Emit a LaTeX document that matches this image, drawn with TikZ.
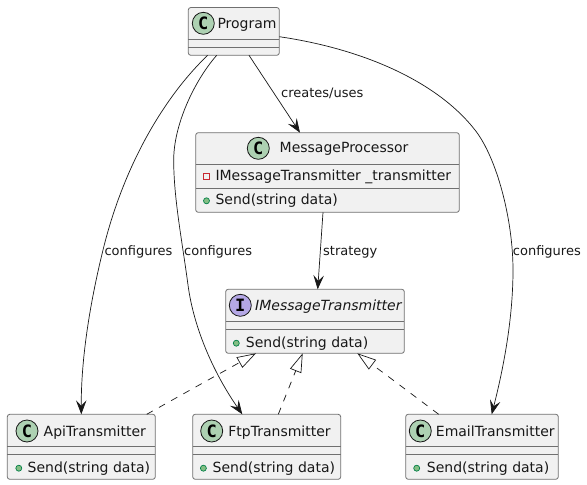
\documentclass[tikz,border=0pt]{standalone}
\usepackage{fontspec}
\setmainfont{DejaVu Sans}
\setmonofont{DejaVu Sans Mono}
\usetikzlibrary{arrows.meta}
\definecolor{boxfill}{HTML}{F1F1F1}
\definecolor{edgecol}{HTML}{181818}
\definecolor{boxline}{HTML}{707070}
\definecolor{classgreen}{HTML}{ADD1B2}
\definecolor{ifacepurple}{HTML}{B4A7E5}
\definecolor{pubgreen}{HTML}{84BE84}
\definecolor{publine}{HTML}{038048}
\definecolor{privred}{HTML}{C82930}
\tikzset{
  classbox/.style={draw=boxline,fill=boxfill,line width=0.8pt,rounded corners=2.5pt,anchor=north west,outer sep=0pt,inner sep=0pt},
  divider/.style={draw=boxline,line width=0.8pt},
  badge/.style={circle,draw=edgecol,line width=0.8pt,minimum size=22pt,inner sep=0pt,font=\fontsize{17}{17}\ttfamily\bfseries},
  title/.style={anchor=base west,inner sep=0pt,text=edgecol,font=\fontsize{14}{14}\selectfont},
  member/.style={title},
  edgelabel/.style={anchor=base west,inner sep=0pt,text=edgecol,font=\fontsize{13}{13}\selectfont},
  pubdot/.style={circle,draw=publine,fill=pubgreen,line width=0.7pt,minimum size=6pt,inner sep=0pt},
  privbox/.style={rectangle,draw=privred,line width=0.9pt,minimum size=6pt,inner sep=0pt},
  uses/.style={draw=edgecol,line width=0.7pt,-{Stealth[length=14pt,width=10.5pt,inset=5.5pt]}},
  realizes/.style={draw=edgecol,line width=0.7pt,dash pattern=on 7pt off 7pt,-{Triangle[open,length=19pt,width=12pt]}},
}
\begin{document}
\begin{tikzpicture}[x=1pt,y=-1pt]
  \useasboundingbox (0,0) rectangle (587,485);
  % classes
  \node [classbox,minimum width=91pt,minimum height=47.8pt] (prog) at (188.3,7.5) {};
  \node [classbox,minimum width=263.6pt,minimum height=79.6pt] (proc) at (195.7,132.7) {};
  \node [classbox,minimum width=178.6pt,minimum height=64pt] (iface) at (225.7,289.3) {};
  \node [classbox,minimum width=148pt,minimum height=65pt] (api) at (7.3,414.3) {};
  \node [classbox,minimum width=148pt,minimum height=65pt] (ftp) at (192.7,414.3) {};
  \node [classbox,minimum width=152.6pt,minimum height=65pt] (email) at (405.7,414.3) {};
  % compartments
  \draw [divider] ([yshift=-31.8pt]prog.north west) -- ([yshift=-31.8pt]prog.north east);
  \draw [divider] ([yshift=-39.8pt]prog.north west) -- ([yshift=-39.8pt]prog.north east);
  \draw [divider] ([yshift=-31.6pt]proc.north west) -- ([yshift=-31.6pt]proc.north east);
  \draw [divider] ([yshift=-55.6pt]proc.north west) -- ([yshift=-55.6pt]proc.north east);
  \draw [divider] ([yshift=-32pt]iface.north west) -- ([yshift=-32pt]iface.north east);
  \draw [divider] ([yshift=-40pt]iface.north west) -- ([yshift=-40pt]iface.north east);
  \draw [divider] ([yshift=-32pt]api.north west) -- ([yshift=-32pt]api.north east);
  \draw [divider] ([yshift=-40pt]api.north west) -- ([yshift=-40pt]api.north east);
  \draw [divider] ([yshift=-32pt]ftp.north west) -- ([yshift=-32pt]ftp.north east);
  \draw [divider] ([yshift=-40pt]ftp.north west) -- ([yshift=-40pt]ftp.north east);
  \draw [divider] ([yshift=-32pt]email.north west) -- ([yshift=-32pt]email.north east);
  \draw [divider] ([yshift=-40pt]email.north west) -- ([yshift=-40pt]email.north east);
  % badges
  \node [badge,fill=classgreen] (progC) at (203.3,23.3) {C};
  \node [badge,fill=classgreen] (procC) at (258.3,148.3) {C};
  \node [badge,fill=ifacepurple] (ifaceI) at (240.3,305.3) {I};
  \node [badge,fill=classgreen] (apiC) at (27,431) {C};
  \node [badge,fill=classgreen] (ftpC) at (211.7,431) {C};
  \node [badge,fill=classgreen] (emailC) at (420.3,431) {C};
  % names
  \node [title] (progT) at (217.3,28) {Program};
  \node [title] (procT) at (279.5,152.7) {MessageProcessor};
  \node [title] (ifaceT) at (255,310) {\itshape IMessageTransmitter};
  \node [title] (apiT) at (43.5,436) {ApiTransmitter};
  \node [title] (ftpT) at (228.2,436) {FtpTransmitter};
  \node [title] (emailT) at (435.7,436) {EmailTransmitter};
  % members
  \node [privbox] (procF) at (206.3,176.3) {};
  \node [member] (procFT) at (215.3,180.8) {IMessageTransmitter \_transmitter};
  \node [pubdot] (procD) at (206.5,200.8) {};
  \node [member] (procMT) at (215.3,204.8) {Send(string data)};
  \node [pubdot] (ifaceD) at (236.3,343.2) {};
  \node [member] (ifaceMT) at (245.7,347.5) {Send(string data)};
  \node [pubdot] (apiD) at (18.8,468.2) {};
  \node [member] (apiMT) at (27.5,472) {Send(string data)};
  \node [pubdot] (ftpD) at (203.4,468.2) {};
  \node [member] (ftpMT) at (212.5,472) {Send(string data)};
  \node [pubdot] (emailD) at (416.7,468.2) {};
  \node [member] (emailMT) at (426.7,472) {Send(string data)};
  % connectors
  \draw [uses] ([xshift=60.7pt]prog.south west) -- ([xshift=104.3pt]proc.north west);
  \draw [uses] ([xshift=19.4pt]prog.south west) .. controls (168,93) and (125,160) .. (103,250)
    .. controls (89.5,305) and (81,360) .. ([xshift=74pt]api.north west);
  \draw [uses] ([xshift=28.4pt]prog.south west) .. controls (195,80) and (173,125) .. (173.7,162)
    .. controls (174,200) and (182,240) .. (188,285)
    .. controls (194,330) and (215,375) .. ([xshift=49.6pt]ftp.north west);
  \draw [uses] ([yshift=-29.2pt]prog.north east) .. controls (370,50) and (440,85) .. (475,130)
    .. controls (497,158) and (513,220) .. (513,270)
    .. controls (513,320) and (503,370) .. ([xshift=86pt]email.north west);
  \draw [uses] ([xshift=127.3pt]proc.south west) -- ([xshift=92pt]iface.north west);
  \draw [realizes] ([xshift=139.4pt]api.north west) -- ([xshift=30.3pt]iface.south west);
  \draw [realizes] ([xshift=85.6pt]ftp.north west) -- ([xshift=77pt]iface.south west);
  \draw [realizes] ([xshift=33pt]email.north west) -- ([xshift=131.6pt]iface.south west);
  % labels
  \node [edgelabel] (lblCreates) at (281,97.7) {creates/uses};
  \node [edgelabel] (lblStrategy) at (323,255.7) {strategy};
  \node [edgelabel] (lblApi) at (104.3,255.7) {configures};
  \node [edgelabel] (lblFtp) at (184,255.7) {configures};
  \node [edgelabel] (lblEmail) at (512.7,255.7) {configures};
\end{tikzpicture}
\end{document}
